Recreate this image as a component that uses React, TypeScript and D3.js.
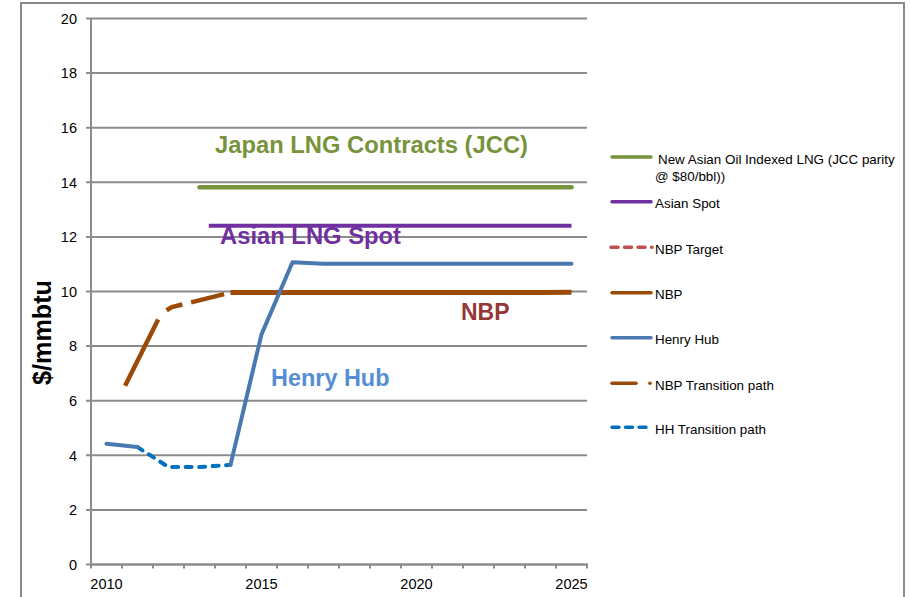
import React from "react";
import * as d3 from "d3";

const years = [2010, 2011, 2012, 2013, 2014, 2015, 2016, 2017, 2018, 2019, 2020, 2021, 2022, 2023, 2024, 2025];
const henryHub: (number | null)[] = [4.42, 4.3, null, null, 3.65, 8.43, 11.07, 11.02, 11.02, 11.02, 11.02, 11.02, 11.02, 11.02, 11.02, 11.02];
const hhTransition: (number | null)[] = [null, 4.3, 3.57, 3.57, 3.65, null, null, null, null, null, null, null, null, null, null, null];
const nbp: (number | null)[] = [null, null, null, null, 9.96, 9.96, 9.96, 9.96, 9.96, 9.96, 9.96, 9.96, 9.96, 9.96, 9.96, 9.97];
const nbpTransitionYears = [2010.6, 2011.76, 2012.11, 2014];
const nbpTransitionValues = [6.55, 9.19, 9.43, 9.96];
const jccYears = [2013, 2025];
const jccValues = [13.82, 13.82];
const asianSpotYears = [2013.3, 2025];
const asianSpotValues = [12.41, 12.41];
const yTicks = [0, 2, 4, 6, 8, 10, 12, 14, 16, 18, 20];
const xLabels = [2010, 2015, 2020, 2025];

const legendItems = [
  { lines: ["New Asian Oil Indexed LNG (JCC parity", "@ $80/bbl))"], color: "#77933C", kind: "solid" },
  { lines: ["Asian Spot"], color: "#7030A0", kind: "solid" },
  { lines: ["NBP Target"], color: "#C0504D", kind: "dash" },
  { lines: ["NBP"], color: "#9C4A08", kind: "solid" },
  { lines: ["Henry Hub"], color: "#4A78B0", kind: "solid" },
  { lines: ["NBP Transition path"], color: "#9C4A08", kind: "dashdot" },
  { lines: ["HH Transition path"], color: "#0070C0", kind: "round" },
];

const W = 910;
const H = 597;
const x = d3.scaleLinear().domain([2009.5, 2025.5]).range([91, 587]);
const y = d3.scaleLinear().domain([0, 20]).range([564.5, 18.5]);
const GRID = "#8C8C8C";
const FONT = "'Liberation Sans', Arial, sans-serif";

type P = { x: number; v: number | null };
const lineGen = d3
  .line<P>()
  .defined((d) => d.v !== null)
  .x((d) => x(d.x))
  .y((d) => y(d.v as number));

const fromYears = (vals: (number | null)[]): P[] => years.map((yr, i) => ({ x: yr, v: vals[i] }));
const fromPairs = (xs: number[], vs: number[]): P[] => xs.map((xx, i) => ({ x: xx, v: vs[i] }));

export default function App() {
  const halfTicks = d3.range(years.length + 1).map((i) => 2009.5 + i);
  return (
    <svg
      width={W}
      height={H}
      style={{ position: "absolute", left: 0, top: 0, background: "#fff" }}
      fontFamily={FONT}
    >
      <rect x={21} y={3} width={883} height={640} fill="none" stroke="#8A8A8A" strokeWidth={2} />
      {/* gridlines */}
      {yTicks.map((t) => (
        <g key={t}>
          <line x1={86} x2={587} y1={y(t)} y2={y(t)} stroke={GRID} strokeWidth={2} />
          <text x={77} y={y(t)} dy="0.36em" textAnchor="end" fontSize={14.5} fill="#000">
            {t}
          </text>
        </g>
      ))}
      {/* axes */}
      <line x1={91} x2={91} y1={y(20)} y2={y(0) + 1} stroke={GRID} strokeWidth={2} />
      <line x1={91} x2={588} y1={y(0)} y2={y(0)} stroke={GRID} strokeWidth={2} />
      {halfTicks.map((t) => (
        <line key={t} x1={x(t)} x2={x(t)} y1={y(0)} y2={y(0) + 4} stroke={GRID} strokeWidth={2} />
      ))}
      {xLabels.map((t) => (
        <text key={t} x={x(t)} y={589} textAnchor="middle" fontSize={14.5} fill="#000">
          {t}
        </text>
      ))}
      <text
        transform={`translate(51,332.5) rotate(-90)`}
        textAnchor="middle"
        fontSize={26}
        fontWeight="bold"
        fill="#000"
        textLength={105}
        lengthAdjust="spacingAndGlyphs"
      >
        $/mmbtu
      </text>

      {/* series */}
      <path d={lineGen(fromPairs(jccYears, jccValues)) || ""} fill="none" stroke="#77933C" strokeWidth={4.5} strokeLinecap="round" />
      <path d={lineGen(fromPairs(asianSpotYears, asianSpotValues)) || ""} fill="none" stroke="#7030A0" strokeWidth={4} />
      <path d={lineGen(fromYears(nbp)) || ""} fill="none" stroke="#9C4A08" strokeWidth={5} />
      <path
        d={lineGen(fromPairs(nbpTransitionYears, nbpTransitionValues)) || ""}
        fill="none"
        stroke="#9C4A08"
        strokeWidth={4.5}
        strokeDasharray="74 13 17 9 34 8"
      />
      <path
        d={lineGen(fromYears(hhTransition)) || ""}
        fill="none"
        stroke="#0070C0"
        strokeWidth={4}
        strokeLinecap="round"
        strokeDasharray="6 7.5"
      />
      <path d={lineGen(fromYears(henryHub)) || ""} fill="none" stroke="#4A78B0" strokeWidth={4} strokeLinejoin="round" strokeLinecap="round" />

      {/* annotations */}
      <text x={215} y={152.5} fontSize={23.5} fontWeight="bold" fill="#77933C" textLength={313} lengthAdjust="spacingAndGlyphs">
        Japan LNG Contracts (JCC)
      </text>
      <text x={220} y={243.5} fontSize={23.5} fontWeight="bold" fill="#7030A0" textLength={181} lengthAdjust="spacingAndGlyphs">
        Asian LNG Spot
      </text>
      <text x={461} y={320} fontSize={23.5} fontWeight="bold" fill="#953735" textLength={48.5} lengthAdjust="spacingAndGlyphs">
        NBP
      </text>
      <text x={271} y={385.5} fontSize={23.5} fontWeight="bold" fill="#558ED5" textLength={118.5} lengthAdjust="spacingAndGlyphs">
        Henry Hub
      </text>

      {/* legend */}
      {legendItems.map((it, i) => {
        const ly = [157, 201.7, 247.3, 292.7, 337.7, 383.3, 427.3][i];
        let mark;
        if (it.kind === "solid") {
          mark = <line x1={612} x2={651} y1={ly} y2={ly} stroke={it.color} strokeWidth={3.5} strokeLinecap="round" />;
        } else if (it.kind === "dash") {
          mark = <line x1={611} x2={652} y1={ly} y2={ly} stroke={it.color} strokeWidth={3.5} strokeLinecap="round" strokeDasharray="7 6.5" />;
        } else if (it.kind === "round") {
          mark = <line x1={612} x2={651} y1={ly} y2={ly} stroke={it.color} strokeWidth={3.5} strokeLinecap="round" strokeDasharray="7 6.5" />;
        } else {
          mark = (
            <g>
              <line x1={612} x2={636} y1={ly} y2={ly} stroke={it.color} strokeWidth={3.5} strokeLinecap="round" />
              <circle cx={650} cy={ly} r={1.8} fill={it.color} />
            </g>
          );
        }
        return (
          <g key={i}>
            {mark}
            {it.lines.map((s, j) => (
              <text key={j} x={j === 0 && i === 0 ? 658 : 655} y={ly + 6.5 + j * 17.5} fontSize={13.4} fill="#000">
                {s}
              </text>
            ))}
          </g>
        );
      })}
    </svg>
  );
}
